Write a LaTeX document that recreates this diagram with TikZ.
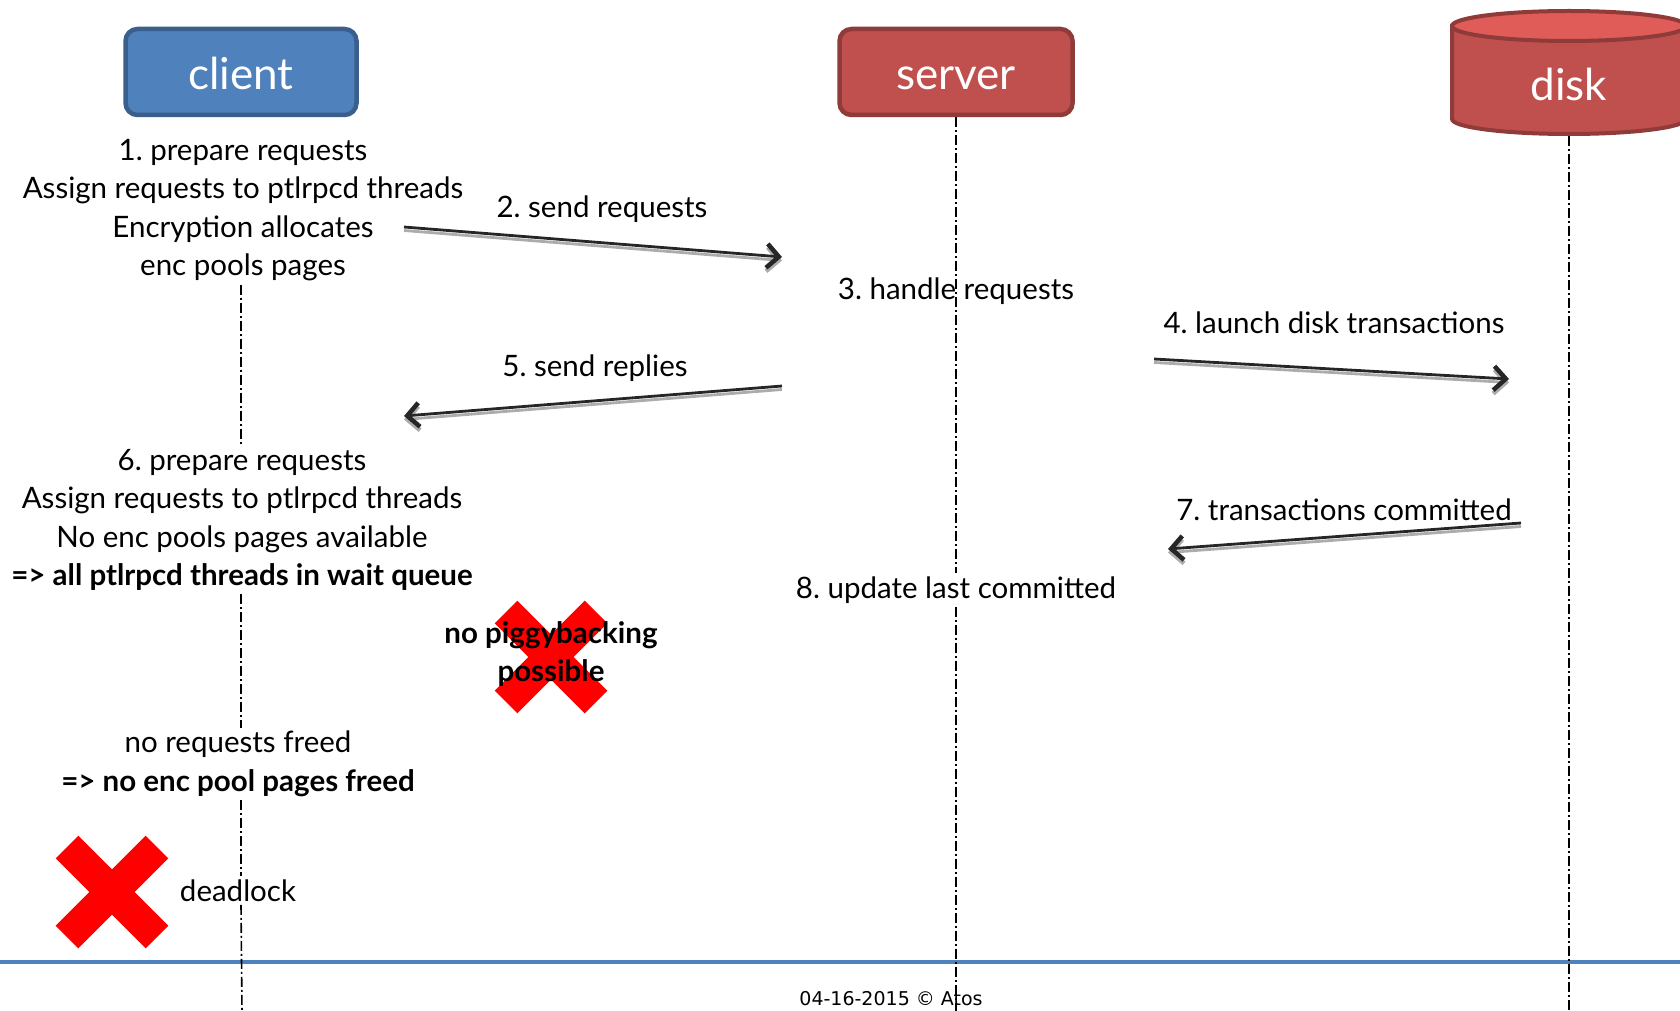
\documentclass[tikz,border=0pt]{standalone}
\usepackage{fontspec}
\setmainfont{Lato}
\newfontfamily\footfont{DejaVu Sans}
\usetikzlibrary{arrows.meta}
\frenchspacing

\definecolor{clientblue}{HTML}{4F81BD}
\definecolor{clientedge}{HTML}{3A5F8C}
\definecolor{serverred}{HTML}{C0504D}
\definecolor{serveredge}{HTML}{8E3B39}
\definecolor{disktop}{HTML}{E05C59}
\definecolor{crossred}{HTML}{FF0000}

\begin{document}
\begin{tikzpicture}[
    x=1pt, y=-1pt,
    actor/.style={rectangle, rounded corners=12pt, line width=4.5pt, minimum height=86pt, text=white, text height=35pt, text depth=0pt, font=\fontsize{44}{50}\selectfont},
    note/.style={align=center, font=\fontsize{29.5}{38.5}\selectfont},
    msglabel/.style={anchor=base, font=\fontsize{29.5}{38.5}\selectfont},
    lifeline/.style={draw=black, line width=1.6pt, dash pattern=on 10pt off 3pt on 2pt off 3pt},
    msg/.style={draw=black!85, line width=2.8pt, -{Straight Barb[length=12pt,width=24pt,line width=4.5pt]},
        preaction={draw=gray!65, line width=2.8pt, transform canvas={yshift=-3.5pt}, -{Straight Barb[length=12pt,width=24pt,line width=4.5pt]}}},
    redcross/.style={draw=crossred, line width=32pt}
]
\useasboundingbox (0,0) rectangle (1680,1011);

% Actors
\node[actor, fill=clientblue, draw=clientedge, minimum width=231pt] (client) at (241,72) {client};
\node[actor, fill=serverred, draw=serveredge, minimum width=233pt] (server) at (956,72) {server};

% Disk drum
\filldraw[fill=serverred, draw=serveredge, line width=4pt] (1452,26) -- (1452,119) arc[start angle=180, end angle=0, x radius=117, y radius=15] -- (1686,26) -- cycle;
\filldraw[fill=disktop, draw=serveredge, line width=4pt] (1569,26) ellipse[x radius=117, y radius=15];
\node[text=white, font=\fontsize{44}{50}\selectfont] (disk) at (1569,84) {disk};
\coordinate (diskbase) at (1569,136);

% Footer
\coordinate (footl) at (0,962);
\coordinate (footr) at (1680,962);
\draw[clientblue, line width=4pt] (footl) -- (footr);
\node[anchor=base, font=\footfont\fontsize{19}{23}\selectfont] (foot) at (891,1005) {04-16-2015 © Atos};

% Client side
\node[note] (prep1) at (243,210) {1. prepare requests\\Assign requests to ptlrpcd threads\\Encryption allocates\\enc pools pages};
\node[note] (prep6) at (242,520) {6. prepare requests\\Assign requests to ptlrpcd threads\\No enc pools pages available\\\textbf{=> all ptlrpcd threads in wait queue}};
\node[note] (freed) at (238,764) {no requests freed\\\textbf{=> no enc pool pages freed}};
\node[msglabel] (dead) at (238,901) {deadlock};

% Server side
\node[msglabel] (handle) at (956,299) {3. handle requests};
\node[msglabel] (update) at (956,598) {8. update last committed};

% Lifelines
\coordinate (clientend) at (242,1011);
\coordinate (serverend) at (956,1011);
\coordinate (diskend) at (1569,1011);
\draw[lifeline] (prep1.south -| client.south) -- (prep6.north -| client.south);
\draw[lifeline] (prep6.south -| client.south) -- (freed.north -| client.south);
\draw[lifeline] (freed.south -| client.south) -- (dead.north -| client.south);
\draw[lifeline] (dead.south -| client.south) -- (clientend);
\draw[lifeline] (server.south) -- (update.north -| server.south);
\draw[lifeline] (update.south -| server.south) -- (serverend);
\draw[lifeline] (diskbase) -- (diskend);

% Messages
\coordinate (req-s) at (404,227);
\coordinate (req-e) at (782,257);
\coordinate (rep-s) at (782,386);
\coordinate (rep-e) at (404,416);
\coordinate (txn-s) at (1154,359);
\coordinate (txn-e) at (1509,379);
\coordinate (com-s) at (1521,523);
\coordinate (com-e) at (1168,549);
\draw[msg] (req-s) -- (req-e);
\draw[msg] (rep-s) -- (rep-e);
\draw[msg] (txn-s) -- (txn-e);
\draw[msg] (com-s) -- (com-e);
\node[msglabel] (sendreq) at (602,217) {2. send requests};
\node[msglabel] (sendrep) at (595,376) {5. send replies};
\node[msglabel] (launch) at (1334,333) {4. launch disk transactions};
\node[msglabel] (commit) at (1344,520) {7. transactions committed};

% Crosses
\coordinate (pigx) at (551,657);
\coordinate (deadx) at (112,892);
\draw[redcross] (pigx) ++(-45,-45) -- ++(90,90) (pigx) ++(-45,45) -- ++(90,-90);
\draw[redcross] (deadx) ++(-45,-45) -- ++(90,90) (deadx) ++(-45,45) -- ++(90,-90);
\node[note, font=\fontsize{29.5}{38.5}\selectfont\bfseries] (piggy) at (551,654) {no piggybacking\\possible};

\end{tikzpicture}
\end{document}
